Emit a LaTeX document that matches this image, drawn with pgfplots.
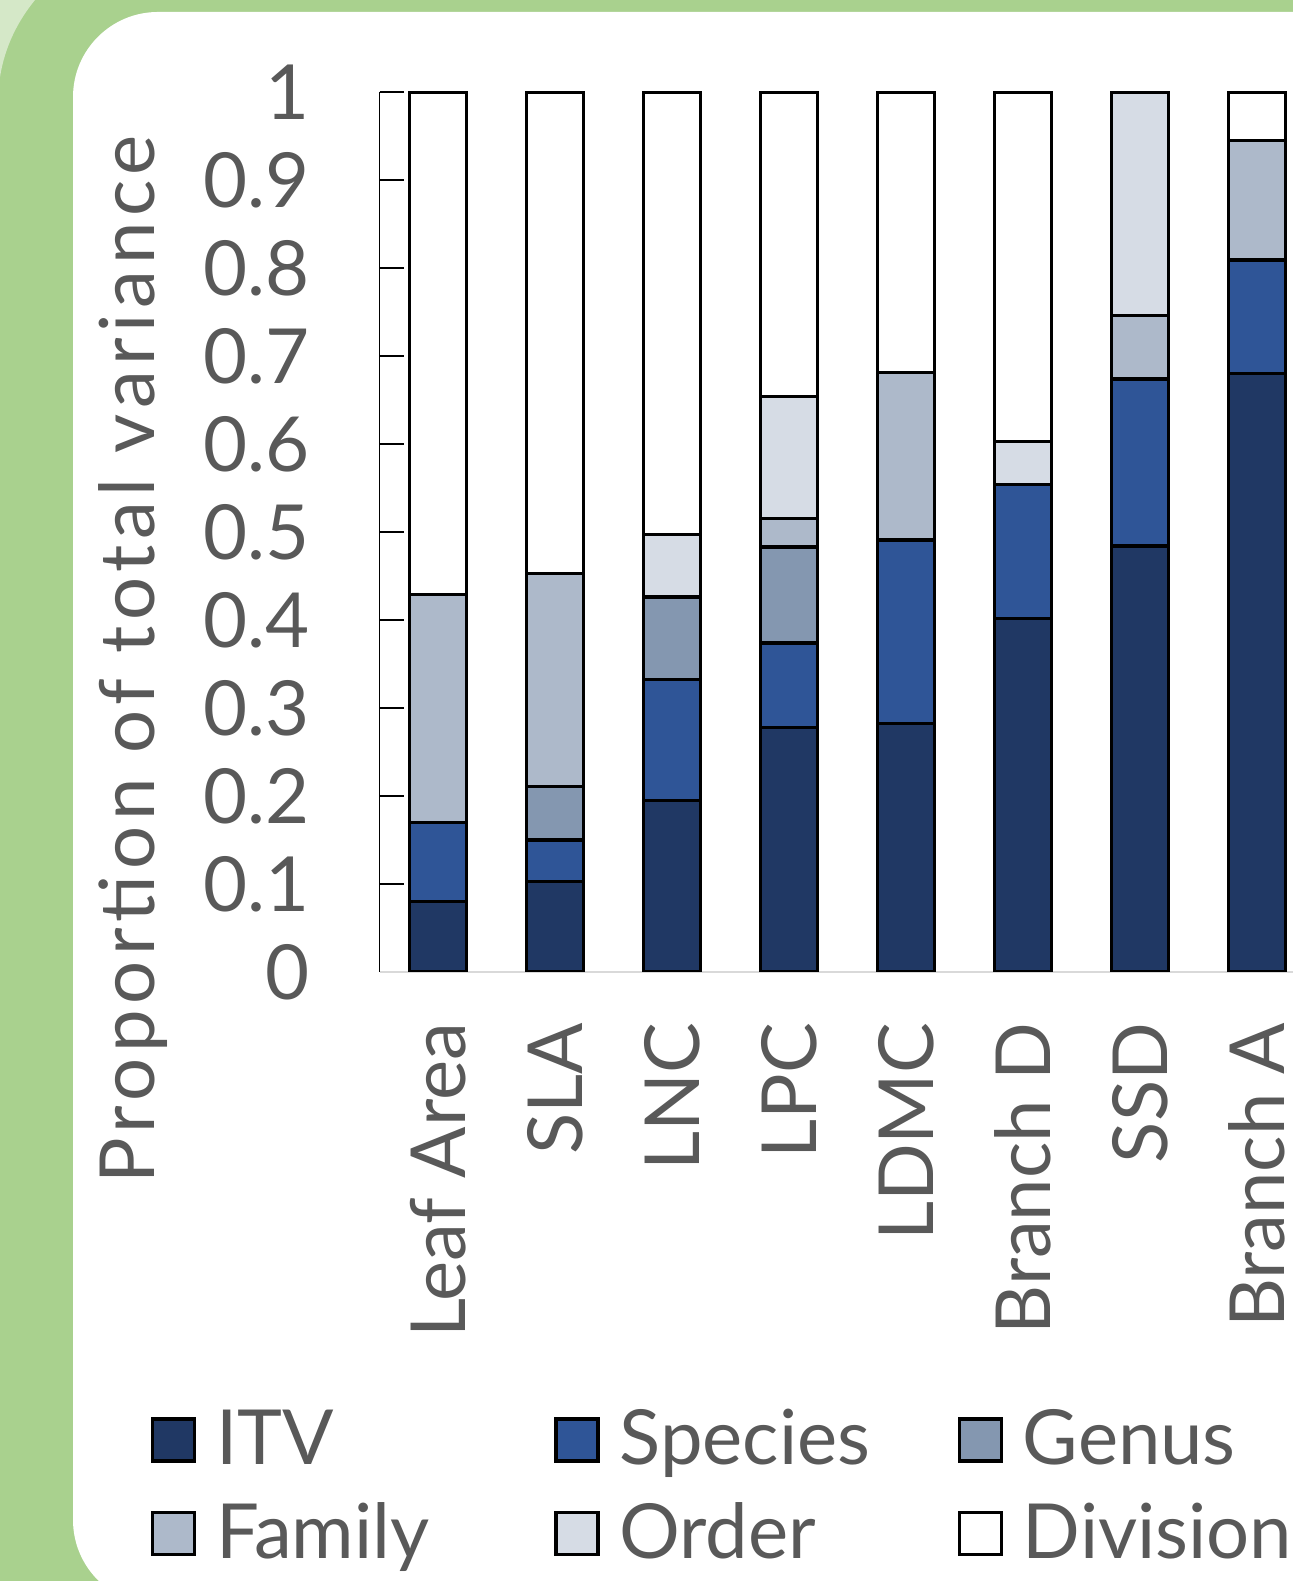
\documentclass[border=0pt]{standalone}
\usepackage{pgfplots}
\pgfplotsset{compat=1.18}
\usepackage{pgfplotstable}
\usepackage{fontspec}
\setmainfont{Lato}
\newlength{\px}\setlength{\px}{0.25pt}
\definecolor{itv}{HTML}{203864}
\definecolor{species}{HTML}{2F5597}
\definecolor{genus}{HTML}{8497B0}
\definecolor{family}{HTML}{ADB9CA}
\definecolor{order}{HTML}{D6DCE5}
\definecolor{textgray}{HTML}{595959}
\definecolor{axisgray}{HTML}{D9D9D9}
\definecolor{bggreen}{HTML}{A9D18E}
\definecolor{bglight}{HTML}{D5E8C8}
\newcommand\LE[1]{\makebox[316\px][l]{\rule[-15\px]{0pt}{70\px}#1}}
\newcommand\LS[1]{\rule[-15\px]{0pt}{70\px}#1}
\pgfplotsset{mylegend/.style={legend image code/.code={\draw[##1, line width=3.3\px] (0\px,-21\px) rectangle (42\px,21\px);}}}

\pgfplotstableread{
idx ITV Species Genus Family Order Division
0 0.080 0.090 0     0.259 0     0.571
1 0.103 0.047 0.061 0.242 0     0.547
2 0.195 0.137 0.094 0     0.071 0.503
3 0.278 0.096 0.109 0.032 0.139 0.346
4 0.282 0.209 0     0.190 0     0.319
5 0.402 0.152 0     0     0.049 0.397
6 0.484 0.190 0     0.072 0.254 0
7 0.680 0.129 0     0.136 0     0.055
}\data

\begin{document}
\begin{tikzpicture}[font=\fontsize{19pt}{22pt}\selectfont]
\useasboundingbox (0,0) rectangle (1293\px,1581\px);
\begin{scope}
\clip (0,0) rectangle (1293\px,1581\px);
\fill[bggreen] (0,0) rectangle (1293\px,1581\px);
\fill[bglight] (0,1581\px) -- (35\px,1581\px) .. controls (18\px,1560\px) and (5\px,1535\px) .. (0,1504\px) -- cycle;
\fill[white, rounded corners=85\px] (73\px,-24\px) rectangle (1450\px,1569\px);
\end{scope}
\begin{axis}[
  at={(379.5\px,609\px)}, anchor=south west,
  scale only axis, width=913.5\px, height=880\px,
  xmin=-0.5, xmax=7.31, ymin=0, ymax=1,
  ybar stacked, bar width=57\px,
  axis x line*=bottom, axis y line*=left,
  x axis line style={draw=axisgray, line width=2\px},
  y axis line style={draw=black, line width=1.5\px},
  tick align=inside,
  ytick={0,0.1,0.2,0.3,0.4,0.5,0.6,0.7,0.8,0.9,1},
  yticklabels={0,0.1,0.2,0.3,0.4,0.5,0.6,0.7,0.8,0.9,1},
  ytick style={draw=black, line width=1.5\px},
  major tick length=24\px,
  xtick={0,1,2,3,4,5,6,7},
  xticklabels={Leaf Area,SLA,LNC,LPC,LDMC,Branch D,SSD,Branch A},
  xtick style={draw=none},
  /pgf/number format/assume math mode=true,
  yticklabel style={text=textgray, inner sep=0pt, anchor=east, xshift=-69\px},
  xticklabel style={text=textgray, inner sep=0pt, rotate=90, anchor=east, xshift=-50\px},
  ylabel={\addfontfeature{LetterSpace=7.5}Proportion of total variance},
  ylabel style={text=textgray, at={(rel axis cs:-0.2458,0.355)}, anchor=base, inner sep=0pt},
  every axis plot/.append style={draw=black, line width=3.3\px},
  legend columns=3,
  legend cell align=left,
  legend style={at={(rel axis cs:-0.2501,-0.4968)}, anchor=north west, draw=none, fill=none,
    inner sep=0pt, outer sep=0pt, text=textgray, row sep=32\px,
    nodes={inner sep=0pt},
    /tikz/every odd column/.append style={column sep=20\px},
    /tikz/every even column/.append style={column sep=22\px}},
]
\addplot[fill=itv, mylegend] table[x=idx,y=ITV]{\data}; \addlegendentry{\LE{ITV}}
\addplot[fill=species, mylegend] table[x=idx,y=Species]{\data}; \addlegendentry{\LE{Species}}
\addplot[fill=genus, mylegend] table[x=idx,y=Genus]{\data}; \addlegendentry{\LS{Genus}}
\addplot[fill=family, mylegend] table[x=idx,y=Family]{\data}; \addlegendentry{\LE{Family}}
\addplot[fill=order, mylegend] table[x=idx,y=Order]{\data}; \addlegendentry{\LE{Order}}
\addplot[fill=white, mylegend] table[x=idx,y=Division]{\data}; \addlegendentry{\LS{Division}}
\end{axis}
\end{tikzpicture}
\end{document}
